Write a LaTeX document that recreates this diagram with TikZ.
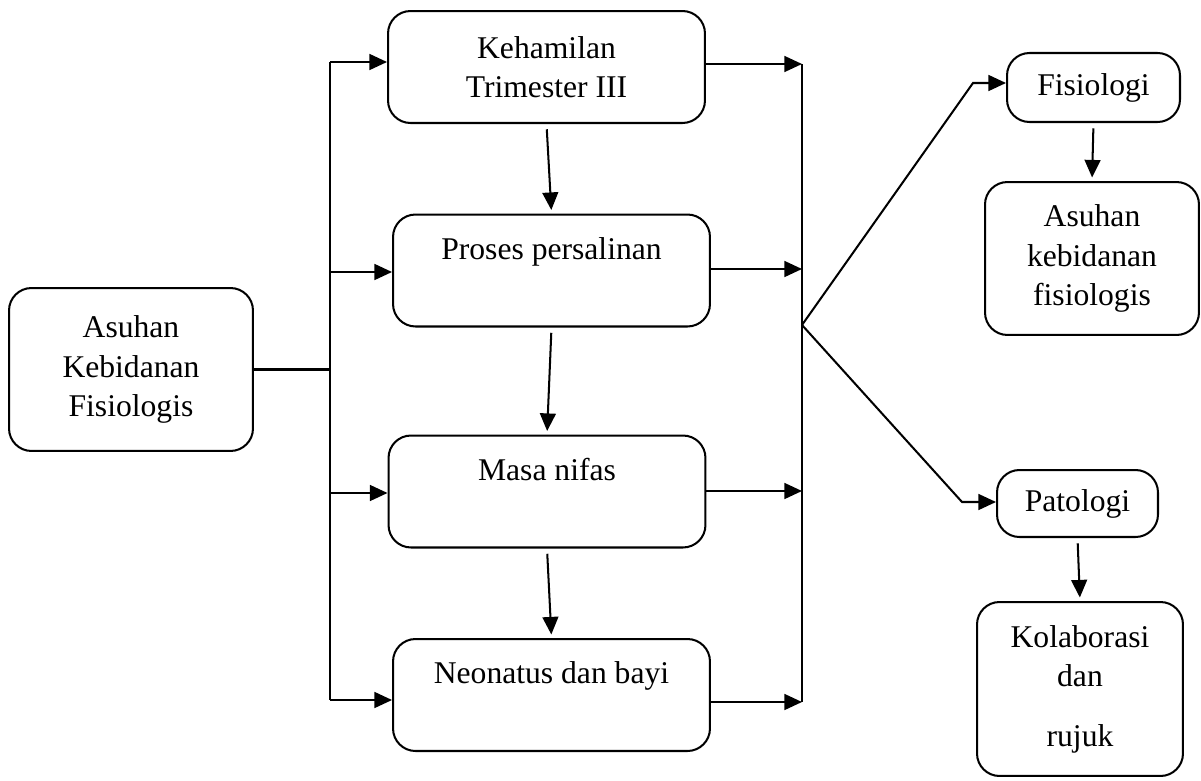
\documentclass[tikz,border=0pt]{standalone}
\usepackage{fontspec}
\setmainfont{Liberation Serif}
\usepackage{tikz}
\usetikzlibrary{arrows.meta}

\begin{document}
\begin{tikzpicture}[x=0.02cm, y=-0.02cm, line width=1.15pt,
	box/.style = {draw, line width=1.15pt, rounded corners=4.5mm, align=center,
		font=\fontsize{18}{22.5}\selectfont},
	main/.style = {box, minimum width=6.34cm, minimum height=2.24cm},
	low/.style = {main, text height=12.5pt, text depth=25.5pt},
	arr/.style = {-{Triangle[length=10pt,width=9pt]}},
	down/.style = {arr, shorten <=3pt, shorten >=2pt}]
\useasboundingbox (0,0) rectangle (1201,781);
\node[box, minimum width=4.88cm, minimum height=3.26cm] (0) at (131,369.5) {Asuhan\\Kebidanan\\Fisiologis};
	\node[main] (1) at (546.5,67) {Kehamilan\\Trimester III};
\node[low] (2) at (551.5,270.5) {Proses persalinan};
	\node[low] (3) at (547,491.5) {Masa nifas};
\node[low] (4) at (551.5,695) {Neonatus dan bayi};
	\node[box, minimum width=3.46cm, minimum height=1.38cm] (5) at (1093.5,87.5) {Fisiologi};
\node[box, minimum width=4.28cm, minimum height=3.06cm] (6) at (1092,258.5) {Asuhan\\kebidanan\\fisiologis};
	\node[box, minimum width=3.22cm, minimum height=1.34cm] (7) at (1077.5,503.5) {Patologi};
\node[box, minimum width=4.12cm, minimum height=3.48cm] (8) at (1080,689) {Kolaborasi\\dan\\[0.4cm]rujuk};
% left and right bus points
\coordinate (a1) at (330,62); \coordinate (a2) at (330,272);
\coordinate (a3) at (330,493); \coordinate (a4) at (330,700);
\coordinate (b1) at (802,64); \coordinate (b2) at (802,269);
\coordinate (b3) at (802,491); \coordinate (b4) at (802,702);
\coordinate (c) at (802,325);
\coordinate (f) at (973,83); \coordinate (p) at (962,502);
\draw (0.east) -- (0.east -| a1);
\draw (a1) -- (a4);
\draw[arr] (a1) -- (a1 -| 1.west);
\draw[arr] (a2) -- (a2 -| 2.west);
\draw[arr] (a3) -- (a3 -| 3.west);
\draw[arr] (a4) -- (a4 -| 4.west);
\draw[arr] (1.east |- b1) -- (b1);
\draw[arr] (2.east |- b2) -- (b2);
\draw[arr] (3.east |- b3) -- (b3);
\draw[arr] (4.east |- b4) -- (b4);
\draw (b1) -- (b4);
\draw[down] (1.south) -- (2.north);
\draw[down] (2.south) -- (3.north);
\draw[down] (3.south) -- (4.north);
\draw[arr] (c) -- (f) -- (f -| 5.west);
\draw[arr] (c) -- (p) -- (p -| 7.west);
\draw[down] (5.south) -- (6.north);
\draw[down] (7.south) -- (8.north);
\end{tikzpicture}
\end{document}
